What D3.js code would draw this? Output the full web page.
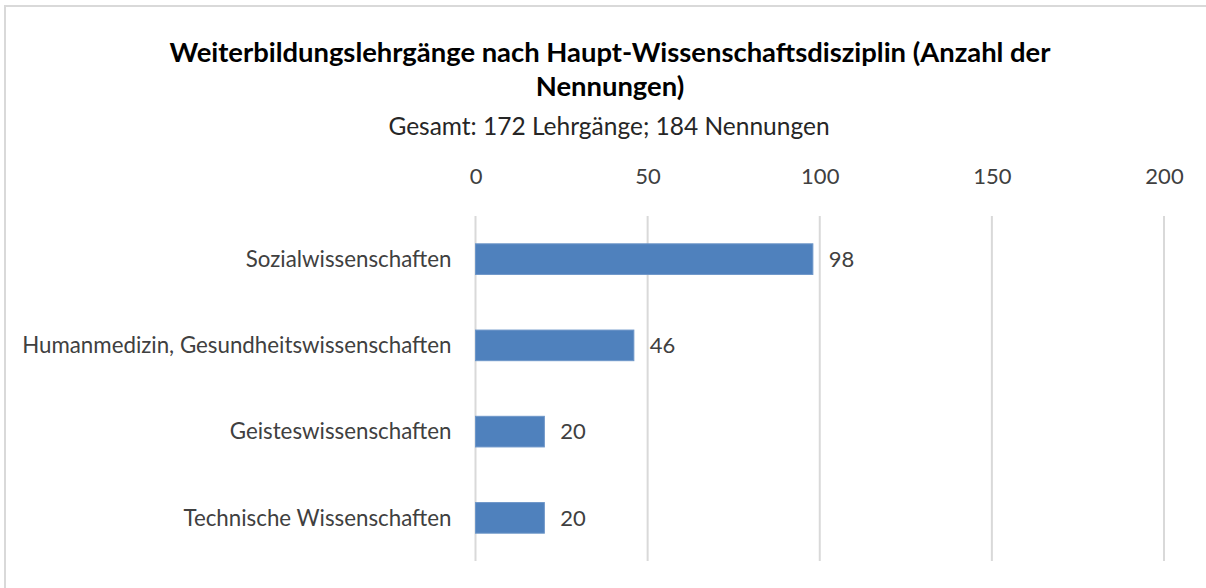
<!DOCTYPE html>
<html>
<head>
<meta charset="utf-8">
<script src="https://cdn.jsdelivr.net/npm/d3@7"></script>
<style>
  body { margin: 0; background: #fff; }
  text { font-family: Lato, "Open Sans", sans-serif; }
</style>
</head>
<body>
<div id="chart"></div>
<script>
// Data
var categories = ["Sozialwissenschaften", "Humanmedizin, Gesundheitswissenschaften",
                  "Geisteswissenschaften", "Technische Wissenschaften"];
var values = [98, 46, 20, 20];
var tickValues = [0, 50, 100, 150, 200];
var titleLines = ["Weiterbildungslehrgänge nach Haupt-Wissenschaftsdisziplin (Anzahl der",
                  "Nennungen)"];
var subtitle = "Gesamt: 172 Lehrgänge; 184 Nennungen";

var svgWidth = 1206;
var svgHeight = 588;

var margin = { top: 216, right: 42, bottom: 27, left: 475.5 };
var width = svgWidth - margin.left - margin.right;
var height = svgHeight - margin.top - margin.bottom;

var svg = d3.select("#chart")
    .append("svg")
    .attr("width", svgWidth)
    .attr("height", svgHeight);

// chart border (only top and left visible)
svg.append("path")
    .attr("d", "M5,588 V6 H1210")
    .attr("fill", "none")
    .attr("stroke", "#d9d9d9")
    .attr("stroke-width", 2);

// Title
svg.append("g").selectAll("text")
    .data(titleLines)
    .enter()
    .append("text")
    .attr("x", 610)
    .attr("y", (d, i) => 62 + i * 34)
    .attr("text-anchor", "middle")
    .style("font-size", "27.4px")
    .style("font-weight", "bold")
    .style("fill", "#000")
    .text(d => d);

svg.append("text")
    .attr("x", 609)
    .attr("y", 135)
    .attr("text-anchor", "middle")
    .style("font-size", "24.5px")
    .style("fill", "#262626")
    .text(subtitle);

var chartGroup = svg.append("g")
    .attr("transform", `translate(${margin.left}, ${margin.top})`);

// Scales
var xLinearScale = d3.scaleLinear()
    .domain([0, 200])
    .range([0, width]);

var yBandScale = d3.scaleBand()
    .domain(categories)
    .range([0, height])
    .paddingInner(0.645)
    .paddingOuter(0.3225);

// Gridlines
chartGroup.append("g")
    .selectAll("line")
    .data(tickValues)
    .enter()
    .append("line")
    .attr("x1", d => xLinearScale(d))
    .attr("x2", d => xLinearScale(d))
    .attr("y1", 0)
    .attr("y2", height)
    .attr("stroke", "#d9d9d9")
    .attr("stroke-width", 2);

// Top axis (labels only)
var topAxis = d3.axisTop(xLinearScale)
    .tickValues(tickValues)
    .tickSize(0)
    .tickPadding(0);

var xAxisG = chartGroup.append("g")
    .attr("transform", "translate(0, -32)")
    .call(topAxis);
xAxisG.select(".domain").remove();
xAxisG.selectAll("text")
    .style("font-family", "Lato, sans-serif")
    .style("font-size", "22px")
    .style("fill", "#404040");

// Left axis (category labels only)
var leftAxis = d3.axisLeft(yBandScale)
    .tickSize(0)
    .tickPadding(24);

var yAxisG = chartGroup.append("g")
    .call(leftAxis);
yAxisG.select(".domain").remove();
yAxisG.selectAll("text")
    .attr("dy", "0.35em")
    .style("font-family", "Lato, sans-serif")
    .style("font-size", "22.3px")
    .style("fill", "#404040");

// Bars
chartGroup.selectAll("rect.bar")
    .data(values)
    .enter()
    .append("rect")
    .attr("class", "bar")
    .attr("x", 0)
    .attr("y", (d, i) => yBandScale(categories[i]))
    .attr("width", d => xLinearScale(d))
    .attr("height", yBandScale.bandwidth())
    .style("fill", "#4f81bd")
    .style("stroke", "#6d96c8")
    .style("stroke-width", 1);

// Value labels
chartGroup.selectAll("text.value")
    .data(values)
    .enter()
    .append("text")
    .attr("class", "value")
    .attr("x", d => xLinearScale(d) + 16)
    .attr("y", (d, i) => yBandScale(categories[i]) + yBandScale.bandwidth() / 2)
    .attr("dy", "0.35em")
    .style("font-size", "22px")
    .style("fill", "#404040")
    .text(d => d);
</script>
</body>
</html>
